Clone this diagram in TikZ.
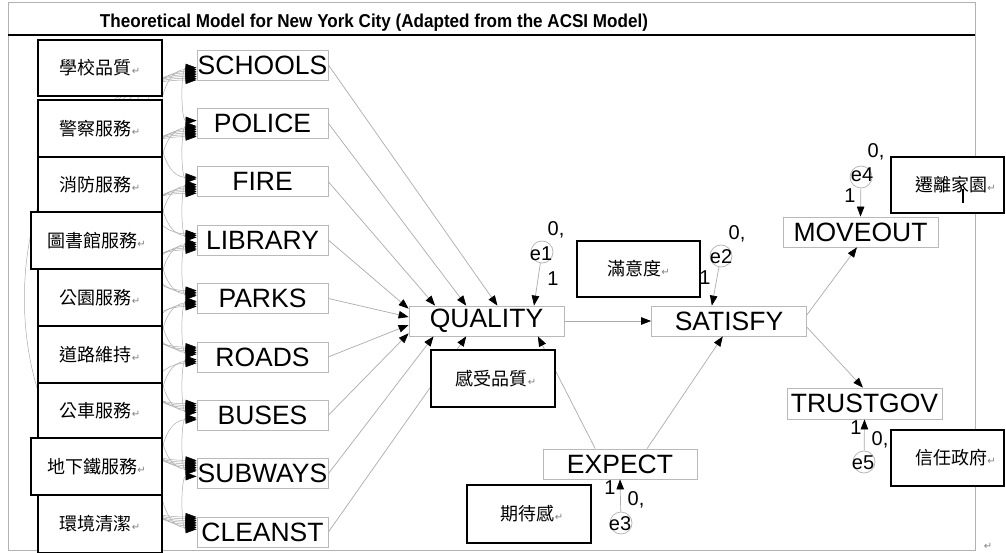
\documentclass[tikz,border=0pt]{standalone}
\usepackage{fontspec}
\usepackage{graphicx}
\setmainfont{Liberation Sans}
\newfontfamily\cjk{Noto Sans CJK TC}
\newfontfamily\retf{DejaVu Sans}
\usetikzlibrary{arrows.meta,calc}
\newcommand\retmark{{\retf\fontsize{10}{10}\selectfont\textcolor{gray}{↵}}}
\tikzset{
  obs/.style={draw=gray!55, line width=0.8pt, inner sep=0pt, minimum height=30pt, minimum width=131pt, font=\fontsize{26.5}{26.5}\selectfont},
  chbox/.style={draw=black, line width=1.2pt, fill=white, inner sep=0pt, font=\cjk\fontsize{18}{18}\selectfont},
  err/.style={circle, draw=gray!60, line width=0.7pt, minimum size=22pt, inner sep=0pt},
  lbl/.style={font=\fontsize{20}{20}\selectfont, inner sep=0pt},
  elbl/.style={font=\fontsize{20}{20}\selectfont, inner sep=0pt},
  pth/.style={draw=gray!65, line width=0.7pt, -{Triangle[length=10pt,width=7.5pt,color=black]}},
  cov/.style={draw=gray!65, line width=0.5pt, {Triangle[length=11pt,width=8pt,color=black]}-{Triangle[length=11pt,width=8pt,color=black]}}
}
\begin{document}
\begin{tikzpicture}[x=1pt,y=-1pt]
\useasboundingbox (0,0) rectangle (1006,553);
\fill[white] (0,0) rectangle (1006,553);
% frame
\draw[gray!60, line width=1pt] (8,3) rectangle (975,550);
\draw[black, line width=2pt] (8,35) -- (975,35);
\node[anchor=base, inner sep=0pt] (title) at (374,28) {\resizebox{548pt}{13.5pt}{\bfseries Theoretical Model for New York City (Adapted from the ACSI Model)}};
% exogenous observed variables
\node[obs] (v1) at (262.5,65) {SCHOOLS};
\node[obs] (v2) at (262.5,123.4) {POLICE};
\node[obs] (v3) at (262.5,181.75) {FIRE};
\node[obs] (v4) at (262.5,240.1) {LIBRARY};
\node[obs] (v5) at (262.5,298.5) {PARKS};
\node[obs] (v6) at (262.5,356.9) {ROADS};
\node[obs] (v7) at (262.5,415.25) {BUSES};
\node[obs] (v8) at (262.5,473.6) {SUBWAYS};
\node[obs] (v9) at (262.5,532) {CLEANST};
% covariances
\foreach \i in {1,...,8}{
  \pgfmathtruncatemacro\ip{\i+1}
  \foreach \j in {\ip,...,9}{
    \pgfmathsetmacro\dd{\j-\i}
    \pgfmathsetmacro\off{1+1.75*\dd}
    \pgfmathsetmacro\cc{16+30*(\dd-1)}
    \draw[cov] ($(v\i.west)+(0,\off)$) .. controls +(-\cc,0) and +(-\cc,0) .. ($(v\j.west)+(0,-\off)$);
  }
}
% Chinese boxes on the left
\node[chbox, minimum width=124pt, minimum height=56pt] (c1) at (100,68) {學校品質\retmark};
\node[chbox, minimum width=124pt, minimum height=57pt] (c2) at (100,128.5) {警察服務\retmark};
\node[chbox, minimum width=124pt, minimum height=55pt] (c3) at (100,184.5) {消防服務\retmark};
\node[chbox, minimum width=131pt, minimum height=57pt] (c4) at (96.5,240.5) {圖書館服務\retmark};
\node[chbox, minimum width=124pt, minimum height=57pt] (c5) at (100,297.5) {公園服務\retmark};
\node[chbox, minimum width=124pt, minimum height=57pt] (c6) at (100,354.5) {道路維持\retmark};
\node[chbox, minimum width=124pt, minimum height=55pt] (c7) at (100,410.5) {公車服務\retmark};
\node[chbox, minimum width=131pt, minimum height=57pt] (c8) at (96.5,466.5) {地下鐵服務\retmark};
\node[chbox, minimum width=124pt, minimum height=58pt] (c9) at (100,524) {環境清潔\retmark};
% endogenous variables
\node[obs, minimum width=155pt] (q) at (486.5,321) {QUALITY};
\node[obs, minimum width=155pt] (s) at (729,321) {SATISFY};
\node[obs, minimum width=155pt] (mo) at (860.5,232) {MOVEOUT};
\node[obs, minimum width=155pt, minimum height=31pt] (tg) at (864.5,403.5) {TRUSTGOV};
\node[obs, minimum width=154pt] (ex) at (620,464) {EXPECT};
% error terms
\node[err] (e1) at (542,252) {};
\node[err] (e2) at (721,256) {};
\node[err] (e4) at (861,177) {};
\node[err] (e5) at (864,462) {};
\node[err] (e3) at (621,523) {};
\node[elbl] (e1t) at (541,254) {e1};
\node[elbl] (e2t) at (721,257) {e2};
\node[elbl] (e4t) at (862,175) {e4};
\node[elbl] (e5t) at (863,463) {e5};
\node[elbl] (e3t) at (620,524) {e3};
\node[lbl] (e1z) at (556,230) {0,};
\node[lbl] (e1o) at (553,279) {1};
\node[lbl] (e2z) at (737,234) {0,};
\node[lbl] (e2o) at (705,278) {1};
\node[lbl] (e4z) at (876,152) {0,};
\node[lbl] (e4o) at (850,196) {1};
\node[lbl] (e5z) at (880,440) {0,};
\node[lbl] (e5o) at (856,428) {1};
\node[lbl] (e3z) at (636,500) {0,};
\node[lbl] (e3o) at (610,488) {1};
% paths into QUALITY
\draw[pth] (v1.east) -- ($(q.north west)!0.57!(q.north east)$);
\draw[pth] (v2.east) -- ($(q.north west)!0.37!(q.north east)$);
\draw[pth] (v3.east) -- ($(q.north west)!0.17!(q.north east)$);
\draw[pth] (v4.east) -- ($(q.north west)!0.1!(q.south west)$);
\draw[pth] (v5.east) -- ($(q.north west)!0.37!(q.south west)$);
\draw[pth] (v6.east) -- ($(q.north west)!0.63!(q.south west)$);
\draw[pth] (v7.east) -- ($(q.north west)!0.9!(q.south west)$);
\draw[pth] (v8.east) -- ($(q.south west)!0.16!(q.south east)$);
\draw[pth] (v9.east) -- ($(q.south west)!0.37!(q.south east)$);
\draw[pth] (e1) -- ($(q.north west)!0.805!(q.north east)$);
\draw[pth] ($(ex.north west)!0.34!(ex.north east)$) -- ($(q.south west)!0.83!(q.south east)$);
% other paths
\draw[pth] ($(ex.north west)!0.675!(ex.north east)$) -- ($(s.south west)!0.46!(s.south east)$);
\draw[pth] (q.east) -- (s.west);
\draw[pth] (e2) -- ($(s.north west)!0.39!(s.north east)$);
\draw[pth] ($(s.north east)!0.3!(s.south east)$) -- ($(mo.south west)!0.477!(mo.south east)$);
\draw[pth] ($(s.north east)!0.7!(s.south east)$) -- ($(tg.north west)!0.49!(tg.north east)$);
\draw[pth] (e4) -- (mo.north);
\draw[pth] (e5) -- (tg.south);
\draw[pth] (e3) -- (ex.south);
% Chinese label boxes
\node[chbox, minimum width=123pt, minimum height=56pt] (sat) at (638.5,269) {滿意度\retmark};
\node[chbox, minimum width=124pt, minimum height=57pt] (pq) at (493,378.5) {\hspace*{6pt}感受品質\retmark};
\node[chbox, minimum width=124pt, minimum height=58pt] (pe) at (529,514) {\hspace*{6pt}期待感\retmark};
\node[chbox, minimum width=113pt, minimum height=56pt] (mv) at (947.5,185) {\hspace*{16pt}遷離家園\retmark};
\node[chbox, minimum width=113pt, minimum height=56pt] (tr) at (947.5,458) {\hspace*{16pt}信任政府\retmark};
\draw[black, line width=1.3pt] (963,189) -- (963,203);
\node[inner sep=0pt] (endmark) at (988,546) {\retmark};
\end{tikzpicture}
\end{document}
